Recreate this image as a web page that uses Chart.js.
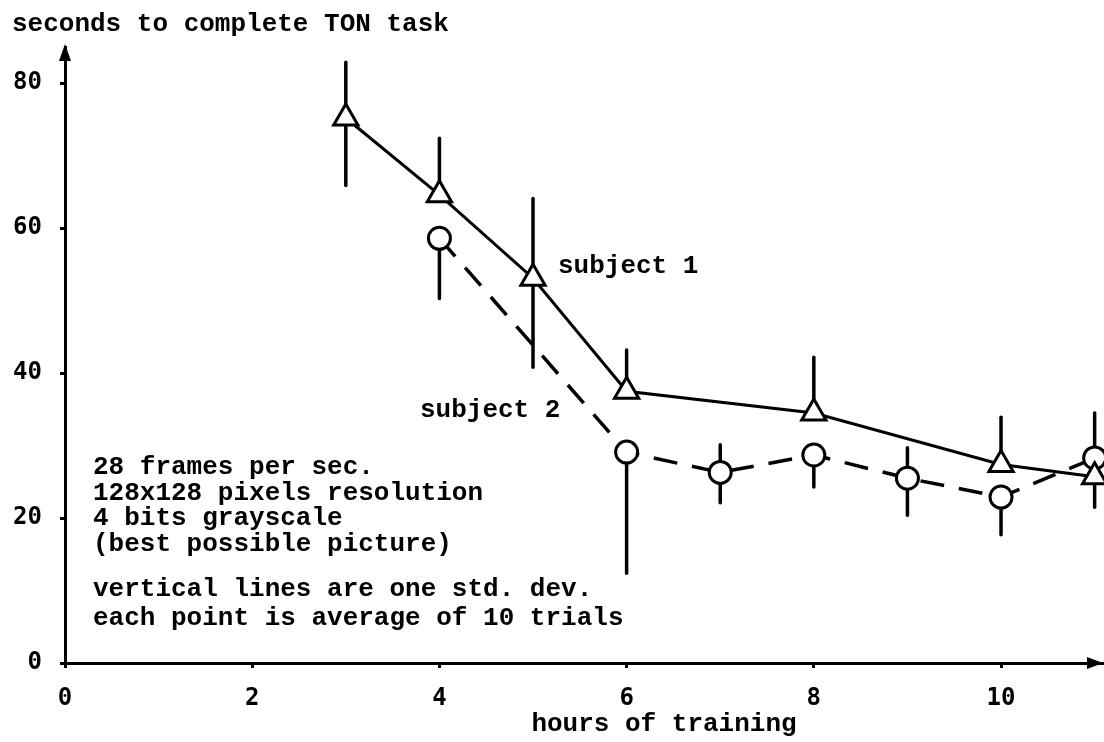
<!DOCTYPE html>
<html lang="en">
<head>
  <meta charset="UTF-8">
  <title>TON task training</title>
  <style>
    html, body { margin: 0; padding: 0; background: #fff; }
    #wrap { width: 1104px; height: 742px; position: relative; }
  </style>
</head>
<body>
  <div id="wrap"><canvas id="tonChart"></canvas></div>

  <script src="https://cdn.jsdelivr.net/npm/chart.js"></script>
  <script>
    // hours of training for each subject
    const hours1 = [3, 4, 5, 6, 8, 10, 11];
    const hours2 = [4, 6, 7, 8, 9, 10, 11];

    // mean seconds to complete the task
    const subject1 = [75.2, 64.6, 53.1, 37.5, 34.5, 27.4, 25.7];
    const subject2 = [58.6, 29.1, 26.3, 28.7, 25.5, 22.9, 28.3];

    // ends of the std. dev. lines (null = that side not drawn)
    const subject1Hi = [82.9, 72.4, 64.1, 43.2, 42.2, 33.9, null];
    const subject1Lo = [65.9, null, 40.8, null, null, null, 21.5];
    const subject2Hi = [null, null, 30.1, null, 29.7, null, 34.5];
    const subject2Lo = [50.3, 12.4, 22.1, 24.3, 20.4, 17.7, null];

    const xTicks = [0, 2, 4, 6, 8, 10];
    const yTicks = [0, 20, 40, 60, 80];

    const notesTop = ['28 frames per sec.', '128x128 pixels resolution', '4 bits grayscale', '(best possible picture)'];
    const notesBottom = ['vertical lines are one std. dev.', 'each point is average of 10 trials'];

    const typeFont = 'bold 26px "Liberation Mono", "DejaVu Sans Mono", monospace';

    // vertical std. dev. lines, drawn under the markers
    const errorBars = {
      id: 'errorBars',
      beforeDatasetsDraw(chart) {
        const ctx = chart.ctx;
        const xs = chart.scales.x, ys = chart.scales.y;
        ctx.save();
        ctx.strokeStyle = '#000';
        ctx.lineWidth = 3.5;
        ctx.lineCap = 'round';
        chart.data.datasets.forEach(ds => {
          ds.data.forEach((p, i) => {
            const px = xs.getPixelForValue(p.x);
            const py = ys.getPixelForValue(p.y);
            [ds.hi[i], ds.lo[i]].forEach(v => {
              if (v == null) return;
              ctx.beginPath();
              ctx.moveTo(px, py);
              ctx.lineTo(px, ys.getPixelForValue(v));
              ctx.stroke();
            });
          });
        });
        ctx.restore();
      }
    };

    // arrows on the axes and the typed text
    const decorations = {
      id: 'decorations',
      afterDraw(chart) {
        const ctx = chart.ctx;
        const a = chart.chartArea;
        ctx.save();
        ctx.fillStyle = '#000';

        // y arrow
        ctx.beginPath();
        ctx.moveTo(a.left, a.top - 3);
        ctx.lineTo(a.left - 6, a.top + 14);
        ctx.lineTo(a.left + 6, a.top + 14);
        ctx.closePath();
        ctx.fill();
        // x arrow
        ctx.beginPath();
        ctx.moveTo(a.right - 1, a.bottom);
        ctx.lineTo(a.right - 17, a.bottom - 6);
        ctx.lineTo(a.right - 17, a.bottom + 6);
        ctx.closePath();
        ctx.fill();

        ctx.font = typeFont;
        ctx.textBaseline = 'alphabetic';
        ctx.textAlign = 'left';
        ctx.fillText('seconds to complete TON task', 12, 31);
        ctx.fillText('subject 1', 558, 273);
        ctx.fillText('subject 2', 420, 417);
        notesTop.forEach((t, i) => ctx.fillText(t, 93, 474 + i * 25.5));
        notesBottom.forEach((t, i) => ctx.fillText(t, 93, 596 + i * 29));

        ctx.textAlign = 'center';
        ctx.fillText('hours of training', 664, 731);
        ctx.restore();
      }
    };

    const ctx = document.getElementById('tonChart').getContext('2d');
    new Chart(ctx, {
      type: 'line',
      data: {
        datasets: [{
          label: 'subject 1',
          data: hours1.map((h, i) => ({ x: h, y: subject1[i] })),
          hi: subject1Hi,
          lo: subject1Lo,
          borderColor: '#000',
          borderWidth: 3,
          pointStyle: 'triangle',
          pointRadius: 14,
          pointBorderWidth: 3,
          pointBorderColor: '#000',
          pointBackgroundColor: '#fff',
          tension: 0,
          clip: false
        }, {
          label: 'subject 2',
          data: hours2.map((h, i) => ({ x: h, y: subject2[i] })),
          hi: subject2Hi,
          lo: subject2Lo,
          borderColor: '#000',
          borderWidth: 3.5,
          borderDash: [24, 15],
          pointStyle: 'circle',
          pointRadius: 11,
          pointBorderWidth: 3,
          pointBorderColor: '#000',
          pointBackgroundColor: '#fff',
          tension: 0,
          clip: false
        }]
      },
      options: {
        responsive: true,
        maintainAspectRatio: false,
        animation: false,
        layout: { autoPadding: false, padding: { top: 47, left: 0, right: 0, bottom: 0 } },
        plugins: {
          legend: { display: false },
          tooltip: { enabled: false },
          title: { display: false }
        },
        scales: {
          x: {
            type: 'linear',
            min: 0,
            max: 11.1,
            afterFit: s => { s.height = 79; s.paddingLeft = 0; s.paddingRight = 0; },
            afterBuildTicks: s => { s.ticks = xTicks.map(v => ({ value: v })); },
            border: { display: true, color: '#000', width: 3 },
            grid: { drawOnChartArea: false, drawTicks: true, tickLength: 5, color: '#000', lineWidth: 3 },
            ticks: {
              padding: 16,
              color: '#000',
              font: { family: '"DejaVu Sans Mono", monospace', size: 24, weight: 'bold' }
            }
          },
          y: {
            type: 'linear',
            min: 0,
            max: 85,
            afterFit: s => { s.width = 65; s.paddingTop = 0; s.paddingBottom = 0; },
            afterBuildTicks: s => { s.ticks = yTicks.map(v => ({ value: v })); },
            border: { display: true, color: '#000', width: 3 },
            grid: { drawOnChartArea: false, drawTicks: true, tickLength: 5, color: '#000', lineWidth: 3 },
            ticks: {
              padding: 18,
              color: '#000',
              font: { family: '"DejaVu Sans Mono", monospace', size: 24, weight: 'bold' }
            }
          }
        }
      },
      plugins: [errorBars, decorations]
    });
  </script>
</body>
</html>
